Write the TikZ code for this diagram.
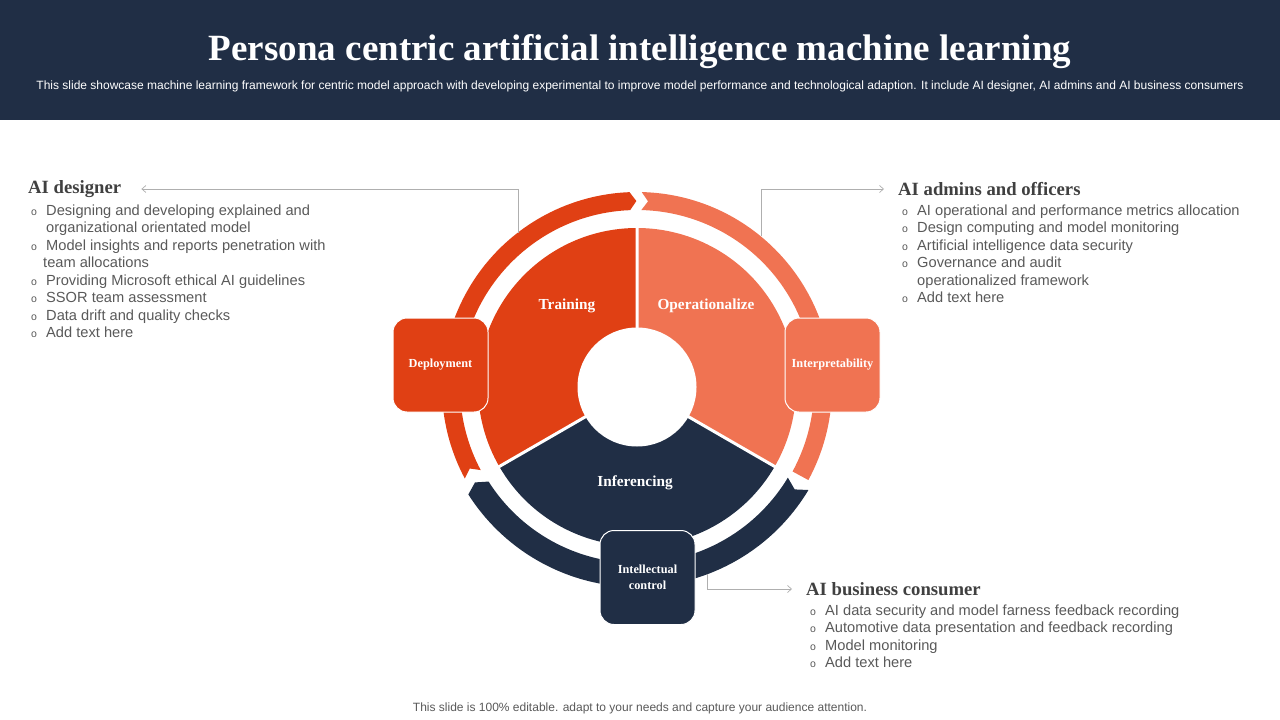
\documentclass[tikz,border=0pt]{standalone}
\usepackage{fontspec}
\setmainfont{Liberation Sans}
\newfontfamily\titleserif{Liberation Serif}
\usetikzlibrary{positioning,arrows.meta}
\definecolor{navyblue}{RGB}{32,46,69}
\definecolor{darkorange}{RGB}{224,64,20}
\definecolor{lightorange}{RGB}{240,115,82}
\definecolor{headgray}{RGB}{64,64,64}
\definecolor{bodygray}{RGB}{89,89,89}
\definecolor{linkgray}{RGB}{175,175,175}
\newcommand\bul{\makebox[15pt][l]{\fontsize{10.5}{10}\selectfont o}}
\newcommand\cont{\hspace*{15pt}}
\tikzset{
  titletext/.style={font=\titleserif\bfseries\fontsize{37}{40}\selectfont, text=white, inner sep=0pt},
  subtext/.style={font=\fontsize{12}{14}\selectfont, text=white, inner sep=0pt},
  foottext/.style={font=\fontsize{12}{14}\selectfont, text=bodygray, inner sep=0pt},
  sectorlabel/.style={font=\titleserif\bfseries\fontsize{15.3}{17}\selectfont, text=white},
  tilebox/.style={draw=white, line width=1pt, rounded corners=14pt, minimum width=95pt, minimum height=94pt, align=center, text=white, font=\titleserif\bfseries\fontsize{12.3}{16}\selectfont},
  headtext/.style={font=\titleserif\bfseries\fontsize{18.7}{21}\selectfont, text=headgray, inner sep=0pt, anchor=west},
  listtext/.style={font=\fontsize{14.65}{17.5}\selectfont, text=bodygray, align=left, inner sep=0pt, anchor=north west},
  linkarrow/.style={-{Straight Barb[length=4pt, width=7pt]}, linkgray, line width=0.7pt}
}
\begin{document}
\begin{tikzpicture}[x=1pt, y=-1pt, >=Latex]
  \useasboundingbox (0,0) rectangle (1280,720);
  \fill[navyblue] (0,0) rectangle (1280,120);
  \node[titletext] (title) at (640,52) {Persona centric artificial intelligence machine learning};
  \node[subtext] (subtitle) at (640,86) {This slide showcase machine learning framework for centric model approach with developing experimental to improve model performance and technological adaption. It include AI designer, AI admins and AI business consumers};

  \begin{scope}[shift={(637,387)}, y=1pt]
    \fill[darkorange] (0,0) -- (90:159) arc[start angle=90, end angle=210, radius=159] -- cycle;
    \fill[lightorange] (0,0) -- (-30:159) arc[start angle=-30, end angle=90, radius=159] -- cycle;
    \fill[navyblue] (0,0) -- (210:159) arc[start angle=210, end angle=330, radius=159] -- cycle;
    \draw[white, line width=3pt] (0,0) -- (90:161) (0,0) -- (210:161) (0,0) -- (330:161);
    \fill[white] (0,0) circle[radius=59.5];
    \fill[darkorange] (208:195) arc[start angle=208, end angle=92.2, radius=195] -- (90.2:186)
      -- (92.2:177) arc[start angle=92.2, end angle=208, radius=177] -- (206:186) -- cycle;
    \fill[lightorange] (88.6:195) arc[start angle=88.6, end angle=-28.5, radius=195]
      -- (-28.5:177) arc[start angle=-28.5, end angle=88.6, radius=177] -- (86.6:186) -- cycle;
    \fill[navyblue] (-31:200) arc[start angle=-31, end angle=-147.5, radius=200] -- (-149.5:188)
      -- (-147.5:176) arc[start angle=-147.5, end angle=-31, radius=176] -- (-33:188) -- cycle;
    \coordinate (tapD) at (-119,154);
    \coordinate (tapA) at (124,151);
    \coordinate (tapC) at (70,-187);
  \end{scope}

  \node[sectorlabel] (training) at (567,306) {Training};
  \node[sectorlabel] (operate) at (706,306) {Operationalize};
  \node[sectorlabel] (infer) at (635,483) {Inferencing};

  \node[tilebox, fill=darkorange] (deploy) at (440.5,365) {Deployment};
  \node[tilebox, fill=lightorange] (interp) at (832.5,365) {Interpretability};
  \node[tilebox, fill=navyblue] (intel) at (647.5,577.5) {Intellectual\\control};

  \node[headtext] (desHead) at (28,189) {AI designer};
  \node[listtext] (desList) at (31,204.5) {\bul Designing and developing explained and\\
    \cont organizational orientated model\\
    \bul Model insights and reports penetration with\\
    \hspace*{12pt}team allocations\\
    \bul Providing Microsoft ethical AI guidelines\\
    \bul SSOR team assessment\\
    \bul Data drift and quality checks\\
    \bul Add text here};

  \node[headtext] (admHead) at (898,189) {AI admins and officers};
  \node[listtext] (admList) at (902,204.5) {\bul AI operational and performance metrics allocation\\
    \bul Design computing and model monitoring\\
    \bul Artificial intelligence data security\\
    \bul Governance and audit\\
    \cont operationalized framework\\
    \bul Add text here};

  \node[headtext] (conHead) at (806,589) {AI business consumer};
  \node[listtext] (conList) at (810,604.5) {\bul AI data security and model farness feedback recording\\
    \bul Automotive data presentation and feedback recording\\
    \bul Model monitoring\\
    \bul Add text here};

  \draw[linkarrow, shorten >=20pt] (tapD) |- (desHead.east);
  \draw[linkarrow, shorten >=14pt] (tapA) |- (admHead.west);
  \draw[linkarrow, shorten >=14pt] (tapC) |- (conHead.west);

  \node[foottext] (footer) at (640,708) {This slide is 100\% editable. adapt to your needs and capture your audience attention.};
\end{tikzpicture}
\end{document}
